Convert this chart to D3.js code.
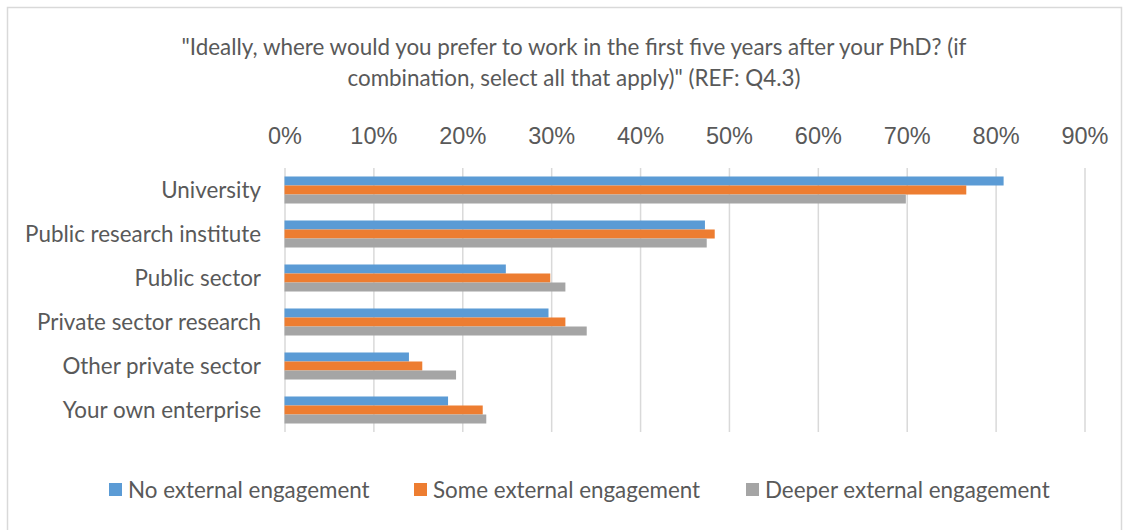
<!DOCTYPE html>
<html>
<head>
<meta charset="utf-8">
<script src="https://cdn.jsdelivr.net/npm/d3@7"></script>
<style>
  body { margin: 0; background: #fff; }
  .cat, .title, .legend text { font-family: Lato, "Open Sans", sans-serif; fill: #595959; }
  .tick text { font-family: "Liberation Sans", Arial, sans-serif; fill: #595959; }
</style>
</head>
<body>
<div id="chart"></div>
<script>
const categories = ["University", "Public research institute", "Public sector",
  "Private sector research", "Other private sector", "Your own enterprise"];
const seriesNames = ["No external engagement", "Some external engagement", "Deeper external engagement"];
const noEngagement = [0.809, 0.473, 0.249, 0.297, 0.140, 0.184];
const someEngagement = [0.767, 0.484, 0.299, 0.316, 0.155, 0.223];
const deeperEngagement = [0.699, 0.475, 0.316, 0.340, 0.193, 0.227];
const tickValues = [0, 0.1, 0.2, 0.3, 0.4, 0.5, 0.6, 0.7, 0.8, 0.9];
const colors = ["#5b9bd5", "#ed7d31", "#a5a5a5"];
const titleLines = ["\"Ideally, where would you prefer to work in the first five years after your PhD? (if",
  "combination, select all that apply)\" (REF: Q4.3)"];

const seriesValues = [noEngagement, someEngagement, deeperEngagement];

const W = 1132, H = 530;
const fontSize = 22.4;
const svg = d3.select("#chart").append("svg")
  .attr("width", W)
  .attr("height", H);

// chart frame
svg.append("rect")
  .attr("x", 7.5).attr("y", 7.5)
  .attr("width", 1114).attr("height", 530)
  .attr("fill", "#fff")
  .attr("stroke", "#d9d9d9")
  .attr("stroke-width", 1.5);

// title
svg.append("text")
  .attr("class", "title")
  .attr("text-anchor", "middle")
  .attr("font-size", fontSize)
  .selectAll("tspan")
  .data(titleLines)
  .join("tspan")
    .attr("x", 574)
    .attr("y", (d, i) => 55 + i * 31)
    .text(d => d);

const plotTop = 168, plotBottom = 432;

const x = d3.scaleLinear()
  .domain([0, 0.9])
  .range([284.5, 1084.5]);

const y = d3.scaleBand()
  .domain(categories)
  .range([plotTop, plotBottom])
  .paddingInner(0.386)
  .paddingOuter(0.193);

const ySub = d3.scaleBand()
  .domain(d3.range(seriesNames.length))
  .range([0, y.bandwidth()]);

// gridlines + top tick labels
const xAxis = svg.append("g")
  .attr("transform", "translate(0," + plotTop + ")")
  .call(d3.axisTop(x)
    .tickValues(tickValues)
    .tickFormat(d3.format(".0%"))
    .tickSize(-(plotBottom - plotTop))
    .tickPadding(24));
xAxis.select(".domain").remove();
xAxis.selectAll(".tick line")
  .attr("stroke", "#d9d9d9")
  .attr("stroke-width", 1.5);
xAxis.selectAll(".tick text")
  .attr("font-size", 23.5);

// bars
const rows = categories.map((c, i) => ({cat: c, vals: seriesValues.map(s => s[i])}));

const groups = svg.append("g")
  .selectAll("g")
  .data(rows)
  .join("g")
    .attr("transform", d => "translate(0," + y(d.cat) + ")");

groups.selectAll("rect")
  .data(d => d.vals.map((v, k) => ({k: k, v: v})))
  .join("rect")
    .attr("x", x(0))
    .attr("y", d => ySub(d.k))
    .attr("width", d => x(d.v) - x(0))
    .attr("height", ySub.bandwidth())
    .attr("fill", d => colors[d.k]);

// category labels
svg.append("g")
  .selectAll("text")
  .data(categories)
  .join("text")
    .attr("class", "cat")
    .attr("x", 261)
    .attr("y", d => y(d) + y.bandwidth() / 2)
    .attr("dy", "0.35em")
    .attr("text-anchor", "end")
    .attr("font-size", fontSize)
    .text(d => d);

// legend
const legendX = [109, 414, 746];
const legend = svg.append("g")
  .attr("class", "legend")
  .selectAll("g")
  .data(seriesNames)
  .join("g")
    .attr("transform", (d, i) => "translate(" + legendX[i] + ",483)");

legend.append("rect")
  .attr("width", 13)
  .attr("height", 13)
  .attr("fill", (d, i) => colors[i]);

legend.append("text")
  .attr("x", 19)
  .attr("y", 7)
  .attr("dy", "0.35em")
  .attr("font-size", fontSize)
  .text(d => d);
</script>
</body>
</html>
